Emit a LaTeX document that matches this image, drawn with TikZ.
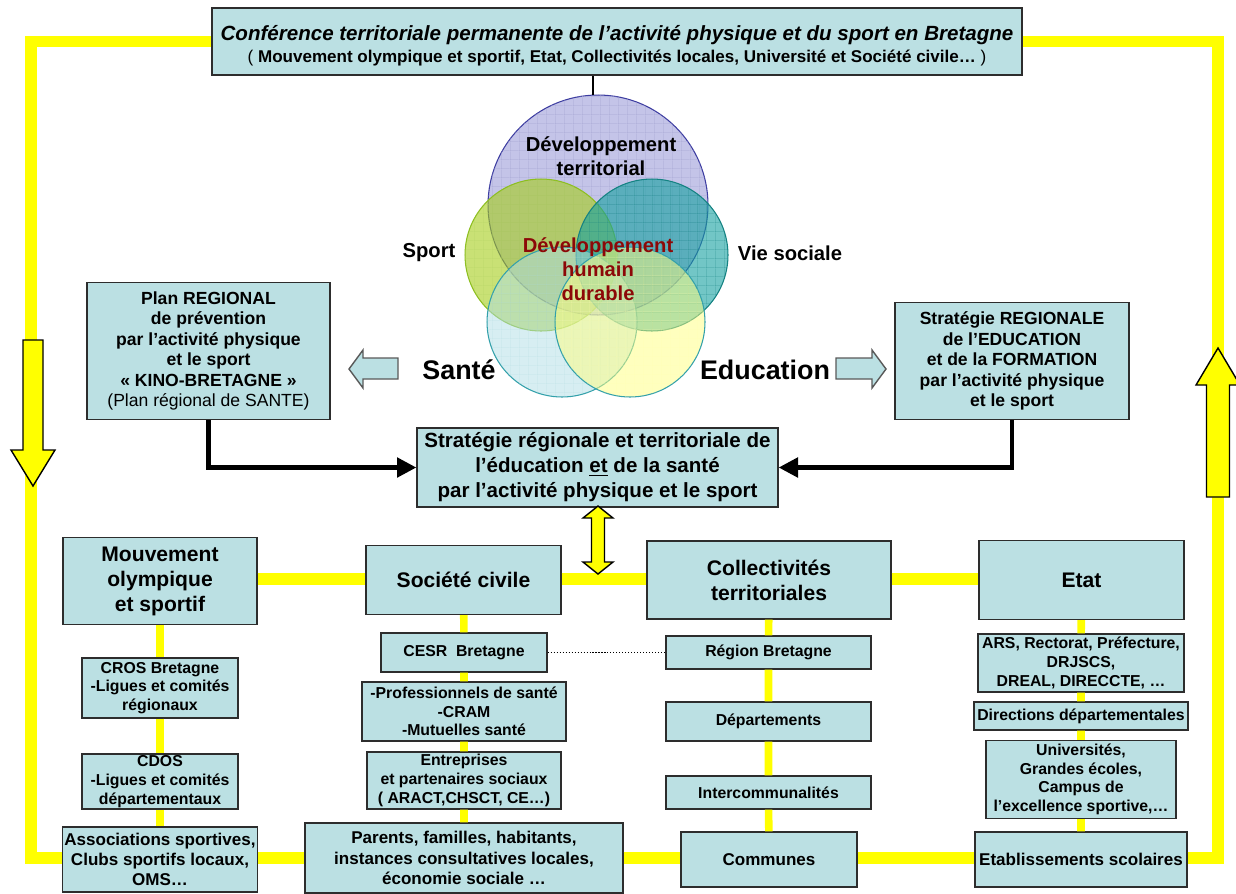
\documentclass[tikz,border=0pt]{standalone}
\usepackage{fontspec}
\setmainfont{Liberation Sans}
\usetikzlibrary{arrows.meta,patterns.meta}

\definecolor{boxfill}{RGB}{187,224,227}
\definecolor{boxline}{RGB}{45,45,45}
\definecolor{loopyellow}{RGB}{255,255,0}
\definecolor{durable}{RGB}{140,8,8}
\definecolor{terrfill}{RGB}{196,196,232}
\definecolor{terrline}{RGB}{60,60,160}
\definecolor{sportfill}{RGB}{165,205,25}
\definecolor{sportline}{RGB}{140,190,30}
\definecolor{viefill}{RGB}{20,160,160}
\definecolor{vieline}{RGB}{20,130,130}
\definecolor{santefill}{RGB}{175,221,229}
\definecolor{educfill}{RGB}{255,255,125}
\definecolor{lowline}{RGB}{50,160,170}

\tikzdeclarepattern{
  name=vgrid, type=uncolored,
  bottom left={(0pt,0pt)}, top right={(5pt,5pt)}, tile size={(5pt,5pt)},
  code={\draw[line width=0.35pt] (0pt,0pt) -- (5pt,0pt) (0pt,0pt) -- (0pt,5pt);}
}

\tikzset{
  box/.style={draw=boxline, fill=boxfill, line width=0.8pt, align=center, inner sep=1pt},
  titlebox/.style={box, font=\fontsize{12}{14.2}\selectfont\bfseries},
  mainbox/.style={box, font=\fontsize{11.7}{14.2}\selectfont\bfseries},
  planbox/.style={box, font=\fontsize{10}{11.7}\selectfont\bfseries},
  subbox/.style={box, font=\fontsize{9}{10.6}\selectfont\bfseries},
  basebox/.style={box, font=\fontsize{9.7}{11.6}\selectfont\bfseries},
  yline/.style={loopyellow, line width=6.8pt},
  ylink/.style={loopyellow, line width=4.3pt},
  outerloop/.style={loopyellow, line width=6.8pt},
  feed/.style={line width=2.4pt, -{Triangle[length=11pt,width=11pt]}},
  blockarrow/.style={fill=loopyellow, draw=black, line width=0.8pt},
  sidearrow/.style={fill=boxfill, draw=gray!70!black, line width=0.8pt},
  venn/.style={circle, inner sep=0pt, minimum size=#1, line width=0.6pt},
  vlabel/.style={align=center, font=\fontsize{11.5}{13.7}\selectfont\bfseries},
  bigword/.style={font=\fontsize{15.3}{18}\selectfont\bfseries}
}

\begin{document}
\begin{tikzpicture}[x=0.02cm, y=-0.02cm]
\useasboundingbox (0,0) rectangle (1236,893);

% conference
\node[box, minimum width=16.2cm, minimum height=1.34cm, font=\bfseries] (conf) at (617,41.5)
  {\rule{0pt}{13pt}{\fontsize{11.7}{13}\selectfont\itshape Conférence territoriale permanente de l’activité physique et du sport en Bretagne}\\[0.6pt]
   {\fontsize{9.7}{11}\selectfont {\mdseries(} Mouvement olympique et sportif, Etat, Collectivités locales, Université et Société civile… {\mdseries)}}};

% circles
\node[venn=4.4cm, fill=terrfill, draw=terrline, postaction={pattern=vgrid, pattern color=terrline!45}] (terr) at (598,205) {};
\node[venn=3.04cm, fill=sportfill, fill opacity=0.6, draw=sportline, postaction={pattern=vgrid, pattern color=sportline!70!white}] (sport) at (541,255) {};
\node[venn=3.04cm, fill=viefill, fill opacity=0.6, draw=vieline, postaction={pattern=vgrid, pattern color=vieline}] (vie) at (652,255) {};
\node[venn=3.0cm, fill=santefill, fill opacity=0.5, draw=lowline, postaction={pattern=vgrid, pattern color=lowline!40}] (sante) at (562,322) {};
\node[venn=3.0cm, fill=educfill, fill opacity=0.5, draw=lowline, postaction={pattern=vgrid, pattern color=educfill!60}] (educ) at (630,322) {};
\draw[line width=1.4pt] ([xshift=-0.1cm]terr.north) -- ([xshift=-0.1cm]terr.north |- conf.south);

\node[vlabel] (terrtxt) at (601,156) {Développement\\territorial};
\node[vlabel] (sporttxt) at (429,253) {Sport};
\node[vlabel] (vietxt) at (790,253) {Vie sociale};
\node[vlabel, text=durable] (humain) at (598,269) {Développement\\humain\\durable};
\node[bigword] (santetxt) at (459,370) {Santé};
\node[bigword] (eductxt) at (765,370) {Education};

% side arrows
\draw[sidearrow] (349,369) -- (363,350) -- (363,358) -- (398,358) -- (398,379) -- (363,379) -- (363,388) -- cycle;
\draw[sidearrow] (886,369) -- (872,350) -- (872,358) -- (836,358) -- (836,379) -- (872,379) -- (872,388) -- cycle;

% plans
\node[planbox, minimum width=4.86cm, minimum height=2.74cm] (plan) at (208.5,351)
  {Plan REGIONAL\\de prévention\\par l’activité physique\\et le sport\\« KINO-BRETAGNE »\\{\mdseries (Plan régional de SANTE)}};
\node[planbox, minimum width=4.68cm, minimum height=2.34cm] (strat) at (1012,361)
  {Stratégie REGIONALE\\de l’EDUCATION\\et de la FORMATION\\par l’activité physique\\et le sport};
\node[mainbox, minimum width=7.22cm, minimum height=1.58cm] (mid) at (597.5,467.5)
  {Stratégie régionale et territoriale de\\l’éducation \underline{et} de la santé\\par l’activité physique et le sport};
\draw[feed] (plan.south) |- (mid.west);
\draw[feed] (strat.south) |- (mid.east);

% mouvement sportif
\node[titlebox, minimum width=3.88cm, minimum height=1.74cm] (mouv) at (160,581) {Mouvement\\olympique\\et sportif};
\node[subbox, minimum width=3.12cm, minimum height=1.2cm] (cros) at (160,688) {CROS Bretagne\\-Ligues et comités\\régionaux};
\node[subbox, minimum width=3.12cm, minimum height=1.1cm] (cdos) at (160,781.5) {CDOS\\-Ligues et comités\\départementaux};
\node[basebox, minimum width=3.88cm, minimum height=1.3cm] (assoc) at (160,859.5) {Associations sportives,\\Clubs sportifs locaux,\\OMS…};

% societe civile
\node[titlebox, minimum width=3.9cm, minimum height=1.38cm] (soc) at (463.5,580) {Société civile};
\node[subbox, minimum width=3.32cm, minimum height=0.78cm] (cesr) at (464,652.5) {CESR\ \ Bretagne};
\node[subbox, minimum width=4.08cm, minimum height=1.18cm] (prof) at (464,711.5) {-Professionnels de santé\\-CRAM\\-Mutuelles santé};
\node[subbox, minimum width=3.88cm, minimum height=1.14cm] (entr) at (464,780.5) {Entreprises\\et partenaires sociaux\\( ARACT,CHSCT, CE…)};
\node[basebox, minimum width=6.36cm, minimum height=1.4cm] (parents) at (464,858) {Parents, familles, habitants,\\instances consultatives locales,\\économie sociale …};

% collectivites
\node[titlebox, minimum width=4.88cm, minimum height=1.56cm] (coll) at (769,580) {Collectivités\\territoriales};
\node[subbox, minimum width=4.1cm, minimum height=0.66cm] (region) at (768.5,652.5) {Région Bretagne};
\node[subbox, minimum width=4.1cm, minimum height=0.78cm] (dept) at (768.5,721.5) {Départements};
\node[subbox, minimum width=4.1cm, minimum height=0.66cm] (interco) at (768.5,792.5) {Intercommunalités};
\node[basebox, minimum width=3.52cm, minimum height=1.1cm] (communes) at (769,859.5) {Communes};

% etat
\node[titlebox, minimum width=4.1cm, minimum height=1.58cm] (etat) at (1081.5,580) {Etat};
\node[subbox, minimum width=4.12cm, minimum height=1.16cm] (ars) at (1081,663) {ARS, Rectorat, Préfecture,\\DRJSCS,\\DREAL, DIRECCTE, …};
\node[subbox, minimum width=4.28cm, minimum height=0.56cm] (dirdep) at (1081,716) {Directions départementales};
\node[subbox, minimum width=3.8cm, minimum height=1.56cm] (univ) at (1081,779.5) {Universités,\\Grandes écoles,\\Campus de\\l’excellence sportive,…};
\node[basebox, minimum width=4.24cm, minimum height=1.1cm] (etab) at (1081,859.5) {Etablissements scolaires};

% yellow links
\coordinate (midrow) at (0,579);
\coordinate (lowrow) at (0,858);
\draw[ylink] (mouv) -- (cros) -- (cdos) -- (assoc);
\draw[ylink] (soc) -- (cesr) -- (prof) -- (entr) -- (parents);
\draw[ylink] (coll) -- (region) -- (dept) -- (interco) -- (communes);
\draw[ylink] (etat) -- (ars) -- (dirdep) -- (univ) -- (etab);
\draw[yline] (mouv.east |- midrow) -- (soc.west |- midrow);
\draw[yline] (soc.east |- midrow) -- (coll.west |- midrow);
\draw[yline] (coll.east |- midrow) -- (etat.west |- midrow);
\draw[yline] (assoc.east |- lowrow) -- (parents.west |- lowrow);
\draw[yline] (parents.east |- lowrow) -- (communes.west |- lowrow);
\draw[yline] (communes.east |- lowrow) -- (etab.west |- lowrow);
\draw[line width=0.5pt, dash pattern=on 0.6pt off 1.1pt] (cesr.east) -- (region.west);

% outer loop
\coordinate (fbl) at (31,858);
\coordinate (fbr) at (1218,858);
\draw[outerloop] (assoc.west |- lowrow) -| (fbl) |- (conf.west);
\draw[outerloop] (etab.east |- lowrow) -| (fbr) |- (conf.east);
\draw[blockarrow] (23,340) -- (43,340) -- (43,450) -- (55,450) -- (33,486) -- (11,450) -- (23,450) -- cycle;
\draw[blockarrow] (1206.5,497) -- (1229.5,497) -- (1229.5,385) -- (1240,385) -- (1218,348) -- (1196,385) -- (1206.5,385) -- cycle;
\draw[blockarrow] (598,506) -- (613,518) -- (604.5,518) -- (604.5,562) -- (613,562) -- (598,574) -- (583,562) -- (591.5,562) -- (591.5,518) -- (583,518) -- cycle;
\end{tikzpicture}
\end{document}
